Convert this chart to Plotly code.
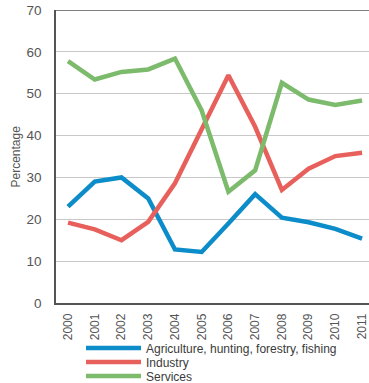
import plotly.graph_objects as go

years = [2000, 2001, 2002, 2003, 2004, 2005, 2006, 2007, 2008, 2009, 2010, 2011]
agriculture = [23.0, 29.0, 30.0, 25.0, 12.8, 12.2, 19.0, 26.0, 20.4, 19.3, 17.7, 15.4]
industry = [19.2, 17.6, 15.0, 19.4, 28.6, 41.3, 54.4, 42.1, 27.0, 32.1, 35.1, 35.9]
services = [57.8, 53.4, 55.2, 55.8, 58.4, 46.0, 26.6, 31.7, 52.6, 48.6, 47.3, 48.4]
series_names = ["Agriculture, hunting, forestry, fishing", "Industry", "Services"]
colors = ["#0c8cc9", "#e8605b", "#7cba6c"]
y_title = "Percentage"

W, H = 369, 383
ML, MR, MT, MB = 56, 0, 10, 80
legend_names = ["legend", "legend2", "legend3"]
legend_rows_px = [348, 362, 376]

fig = go.Figure()
for name, vals, col, lg in zip(series_names, [agriculture, industry, services], colors, legend_names):
    fig.add_trace(go.Scatter(x=years, y=vals, mode="lines", name=name, legend=lg,
                             line=dict(color=col, width=4.5)))

fig.add_shape(type="line", xref="paper", x0=0, x1=1, yref="y", y0=70, y1=70,
              line=dict(color="#555555", width=1.5))

legend_common = dict(orientation="v", xref="container", yref="container",
                     x=81 / W, xanchor="left", yanchor="middle",
                     font=dict(size=12, color="#3a3a3a"), itemwidth=55,
                     bgcolor="rgba(0,0,0,0)", borderwidth=0)
layout_legends = {}
for lg, py in zip(legend_names, legend_rows_px):
    layout_legends[lg] = dict(legend_common, y=1 - py / H)

plot_w = W - ML - MR
fig.add_annotation(text=y_title, xref="paper", yref="paper",
                   x=(15 - ML) / plot_w, y=0.5, xanchor="center", yanchor="middle",
                   textangle=-90, showarrow=False,
                   font=dict(size=12, color="#555555"))

fig.update_layout(
    width=W, height=H,
    margin=dict(l=ML, r=MR, t=MT, b=MB, autoexpand=False),
    plot_bgcolor="white", paper_bgcolor="white",
    font=dict(family="Liberation Sans, Arial, sans-serif", color="#555555", size=12),
    showlegend=True,
    **layout_legends,
    xaxis=dict(range=[1999.55, 2011.26], tickmode="array", tickvals=years,
               ticktext=[str(y) for y in years], tickangle=-90,
               showline=True, linecolor="#555555", linewidth=1.5,
               showgrid=False, zeroline=False, ticks="outside", ticklen=4,
               tickcolor="rgba(0,0,0,0)",
               tickfont=dict(size=12, color="#555555")),
    yaxis=dict(range=[0, 70], dtick=10, showgrid=True, gridcolor="#c8c8c8",
               gridwidth=1, showline=True, linecolor="#555555", linewidth=1.5,
               zeroline=False, ticks="outside", ticklen=10, tickcolor="rgba(0,0,0,0)",
               tickfont=dict(size=13.5, color="#555555")),
)

fig.write_html("out.html", config={"displayModeBar": False},
               post_script="document.body.style.margin='0';")
